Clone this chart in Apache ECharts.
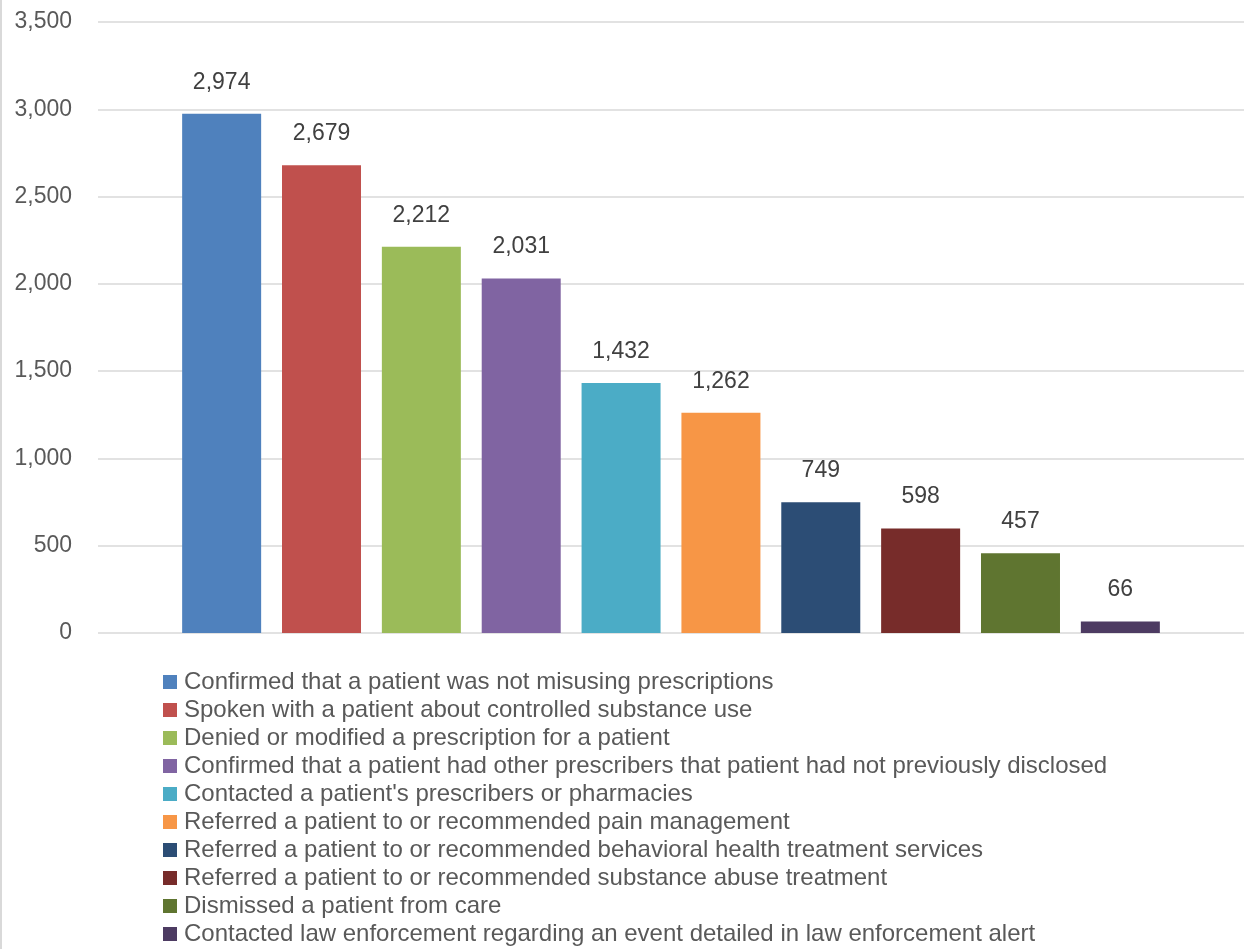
<!DOCTYPE html>
<html>
<head>
<meta charset="utf-8">
<script src="https://cdn.jsdelivr.net/npm/echarts@6/dist/echarts.min.js"></script>
<style>
  html, body { margin: 0; padding: 0; background: #fff; }
  #chart { width: 1244px; height: 949px; }
</style>
</head>
<body>
<div id="chart"></div>
<script>
const actions = [
  'Confirmed that a patient was not misusing prescriptions',
  'Spoken with a patient about controlled substance use',
  'Denied or modified a prescription for a patient',
  'Confirmed that a patient had other prescribers that patient had not previously disclosed',
  "Contacted a patient's prescribers or pharmacies",
  'Referred a patient to or recommended pain management',
  'Referred a patient to or recommended behavioral health treatment services',
  'Referred a patient to or recommended substance abuse treatment',
  'Dismissed a patient from care',
  'Contacted law enforcement regarding an event detailed in law enforcement alert'
]
const counts = [2974, 2679, 2212, 2031, 1432, 1262, 749, 598, 457, 66]
const colors = ['#4F81BD', '#C0504D', '#9BBB59', '#8064A2', '#4BACC6',
                '#F79646', '#2C4D75', '#772C2A', '#5F7530', '#4D3B62']

const fmt = v => v.toLocaleString('en-US')

const chart = echarts.init(document.getElementById('chart'))

// one category, one series per action (like the excel cluster)
const series = actions.map((name, i) => ({
  name: name,
  type: 'bar',
  data: [counts[i]],
  barWidth: 79,
  barGap: '26.4%',
  itemStyle: { color: colors[i] },
  label: {
    show: true,
    position: 'top',
    distance: 20,
    color: '#404040',
    fontSize: 23,
    fontFamily: 'Liberation Sans',
    formatter: p => fmt(p.value)
  }
}))

chart.setOption({
  animation: false,
  color: colors,
  textStyle: { fontFamily: 'Liberation Sans' },
  grid: { left: 98, right: 0, top: 22, bottom: 316 },
  xAxis: {
    type: 'category',
    data: [''],
    axisLine: { show: false },
    axisTick: { show: false },
    axisLabel: { show: false }
  },
  yAxis: {
    type: 'value',
    min: 0,
    max: 3500,
    interval: 500,
    axisLine: { show: false },
    axisTick: { show: false },
    axisLabel: {
      color: '#595959',
      fontSize: 23,
      margin: 26,
      formatter: v => fmt(v)
    },
    splitLine: { lineStyle: { color: '#d9d9d9', width: 1.5 } }
  },
  legend: {
    orient: 'vertical',
    left: 163,
    top: 670,
    padding: 0,
    itemWidth: 14,
    itemHeight: 14,
    itemGap: 4,
    icon: 'rect',
    selectedMode: false,
    textStyle: { color: '#595959', fontSize: 24, lineHeight: 24, padding: [0, 0, 0, 2] },
    data: actions
  },
  graphic: [{
    type: 'line',
    shape: { x1: 1, y1: 0, x2: 1, y2: 949 },
    style: { stroke: '#d9d9d9', lineWidth: 2 }
  }],
  series: series
})
</script>
</body>
</html>
